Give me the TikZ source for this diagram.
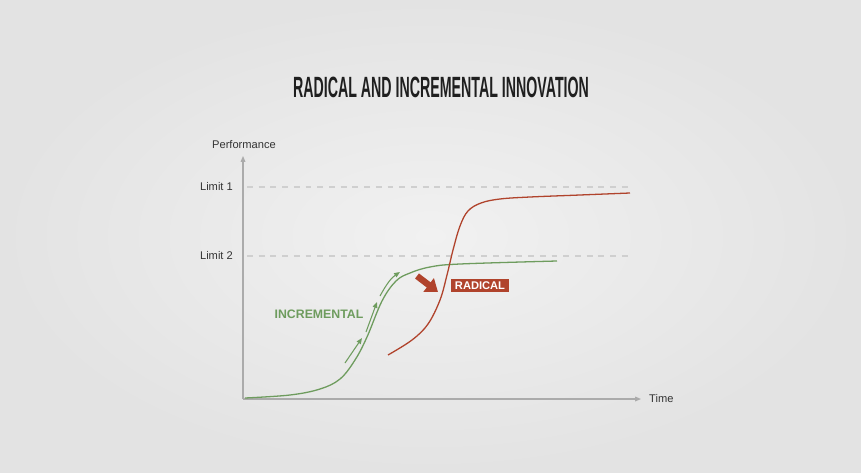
\documentclass[tikz,border=0pt]{standalone}
\usepackage{fontspec}
\setmainfont{Liberation Sans}
\newfontfamily\titlefont{Liberation Sans}[FakeStretch=0.485]
\usetikzlibrary{arrows.meta}
\definecolor{bgin}{HTML}{F1F1F1}
\definecolor{bgout}{HTML}{E3E3E3}
\definecolor{axisgray}{HTML}{ABABAB}
\definecolor{limitgray}{HTML}{CFCFCF}
\definecolor{incgreen}{HTML}{6E9C5E}
\definecolor{radred}{HTML}{B0432C}
\tikzset{
  axisline/.style={axisgray, line width=0.9pt, -{Triangle[length=5pt,width=4pt]}},
  limitline/.style={limitgray, line width=0.9pt, dash pattern=on 5pt off 5pt},
  smalllabel/.style={font=\fontsize{9.5}{11}\selectfont, text=black!80},
  incarrow/.style={incgreen, line width=0.9pt, -{Triangle[length=5pt,width=4pt]}}
}
\begin{document}
\begin{tikzpicture}[x=0.03cm, y=-0.03cm]
% background with soft light centre
\shade[inner color=bgin, outer color=bgout] (0,0) rectangle (861,472);
\useasboundingbox (0,0) rectangle (861,472);

\node[font=\titlefont\bfseries\fontsize{25}{28}\selectfont, text=black!88] (title) at (441,87) {RADICAL AND INCREMENTAL INNOVATION};

% axes
\coordinate (O) at (243,399);
\coordinate (ytop) at (243,156);
\coordinate (xend) at (641,399);
\draw[axisline] (O) -- (ytop);
\draw[axisline] (O) -- (xend);
\node[smalllabel] (perf) at (244,145) {Performance};
\node[smalllabel, anchor=west] (time) at (645,399) {Time};

% limits
\coordinate (l1a) at (247,187);
\coordinate (l1b) at (630,187);
\coordinate (l2a) at (247,256);
\coordinate (l2b) at (630,256);
\draw[limitline] (l1a) -- (l1b);
\draw[limitline] (l2a) -- (l2b);
\node[smalllabel, anchor=east] (lim1) at (237,187) {Limit 1};
\node[smalllabel, anchor=east] (lim2) at (237,256) {Limit 2};

% incremental curve
\draw[incgreen, line width=1.1pt] plot[smooth, tension=0.6] coordinates {(245,398) (290,395) (320,389) (340,379) (355,360) (367,337) (382,301) (396,281) (410,273) (430,267) (460,264) (557,261)};
\coordinate (a1) at (345,363);
\coordinate (b1) at (362,338);
\coordinate (a2) at (366,332);
\coordinate (b2) at (377,302);
\coordinate (a3) at (380,296);
\coordinate (b3) at (400,272);
\draw[incarrow] (a1) -- (b1);
\draw[incarrow] (a2) -- (b2);
\draw[incarrow] (a3) .. controls (386,285) and (391,278) .. (b3);
\node[font=\bfseries\fontsize{10.5}{12}\selectfont, text=incgreen] (inc) at (319,314) {INCREMENTAL};

% radical curve
\draw[radred, line width=1.1pt] plot[smooth, tension=0.6] coordinates {(388,355) (412,340) (428,324) (440,300) (447,275) (453,250) (460,226) (468,211) (481,203) (500,199) (530,197) (580,195) (630,193)};
\coordinate (ra) at (417,276);
\coordinate (rb) at (438,292);
\draw[radred, line width=5.5pt, -{Triangle[length=10pt,width=14pt]}] (ra) -- (rb);
\node[fill=radred, text=white, font=\bfseries\fontsize{9.5}{11}\selectfont, inner xsep=3pt, inner ysep=2.5pt] (rad) at (480,285.5) {RADICAL};
\end{tikzpicture}
\end{document}
